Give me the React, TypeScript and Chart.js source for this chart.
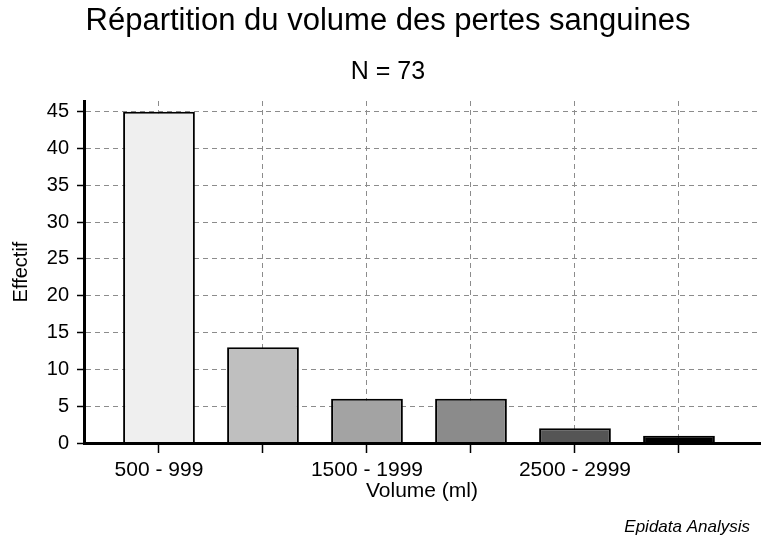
import React, { useEffect, useRef } from 'react';
import { Chart, registerables } from 'chart.js';

Chart.register(...registerables);

const categories = ['500 - 999', '1000 - 1499', '1500 - 1999', '2000 - 2499', '2500 - 2999', '3000 - 3499'];
const counts = [45, 13, 6, 6, 2, 1];
const barColors = ['#efefef', '#bfbfbf', '#a3a3a3', '#8b8b8b', '#555555', '#000000'];
const shownLabelIdx = [0, 2, 4];
const titleText = 'Répartition du volume des pertes sanguines';
const subtitleText = 'N = 73';
const xTitle = 'Volume (ml)';
const yTitle = 'Effectif';
const creditText = 'Epidata Analysis';

const FONT = '"Liberation Sans", Arial, sans-serif';

const creditPlugin = {
  id: 'credit',
  afterDraw(chart: any) {
    const ctx = chart.ctx;
    ctx.save();
    ctx.font = 'italic 17px "Liberation Sans", Arial, sans-serif';
    ctx.fillStyle = '#000';
    ctx.textAlign = 'right';
    ctx.textBaseline = 'middle';
    ctx.fillText(creditText, 750, 527);
    ctx.restore();
  },
};

export default function App() {
  const ref = useRef<HTMLCanvasElement>(null);
  useEffect(() => {
    document.body.style.margin = '0';
    const chart = new Chart(ref.current as HTMLCanvasElement, {
      type: 'bar',
      data: {
        datasets: [
          {
            data: counts.map((v, i) => ({ x: i, y: v })),
            backgroundColor: barColors,
            borderColor: '#000',
            borderWidth: 2,
            barPercentage: 0.69,
            categoryPercentage: 1,
          },
        ],
      },
      options: {
        responsive: false,
        animation: false,
        layout: { padding: { left: 16, right: 1, top: 0, bottom: 0 } },
        plugins: {
          legend: { display: false },
          tooltip: { enabled: false },
          title: {
            display: true,
            text: titleText,
            color: '#000',
            font: { family: FONT, size: 31, weight: 'normal', lineHeight: 1.2 },
            padding: { top: 2.4, bottom: 17.4 },
          },
          subtitle: {
            display: true,
            text: subtitleText,
            color: '#000',
            font: { family: FONT, size: 25, weight: 'normal', lineHeight: 1.2 },
            padding: { top: 0, bottom: 14 },
          },
        },
        scales: {
          x: {
            type: 'linear',
            min: -0.721,
            max: 5.779,
            offset: false,
            grid: {
              offset: false,
              color: '#8c8c8c',
              lineWidth: 1,
              tickColor: '#000',
              tickLength: 10,
              tickWidth: 1.5,
            },
            border: { display: true, color: '#000', width: 3, dash: [5, 4], z: 1 },
            ticks: {
              stepSize: 1,
              includeBounds: false,
              autoSkip: false,
              maxRotation: 0,
              padding: 5,
              color: '#000',
              font: { family: FONT, size: 21 },
              callback: (v: any) => (shownLabelIdx.includes(Number(v)) ? categories[Number(v)] : ''),
            },
            title: {
              display: true,
              text: xTitle,
              color: '#000',
              font: { family: FONT, size: 21, lineHeight: 1.2 },
              padding: { top: 0, bottom: 42 },
            },
            afterFit: (s: any) => {
              s.height = 103;
            },
          },
          y: {
            min: 0,
            max: 46.45,
            grid: {
              color: '#8c8c8c',
              lineWidth: 1,
              tickColor: '#000',
              tickLength: 7,
              tickWidth: 1.5,
            },
            border: { display: true, color: '#000', width: 3, dash: [5, 4], z: 1 },
            ticks: {
              stepSize: 5,
              includeBounds: false,
              padding: 8,
              color: '#000',
              font: { family: FONT, size: 20 },
            },
            title: {
              display: true,
              text: yTitle,
              color: '#000',
              font: { family: FONT, size: 20, lineHeight: 1.2 },
              padding: { top: -7, bottom: 0 },
            },
            afterFit: (s: any) => {
              s.width = 68;
            },
          },
        },
      },
      plugins: [creditPlugin],
    } as any);
    return () => chart.destroy();
  }, []);
  return (
    <div style={{ width: 761, height: 546 }}>
      <canvas ref={ref} width={761} height={546} />
    </div>
  );
}
